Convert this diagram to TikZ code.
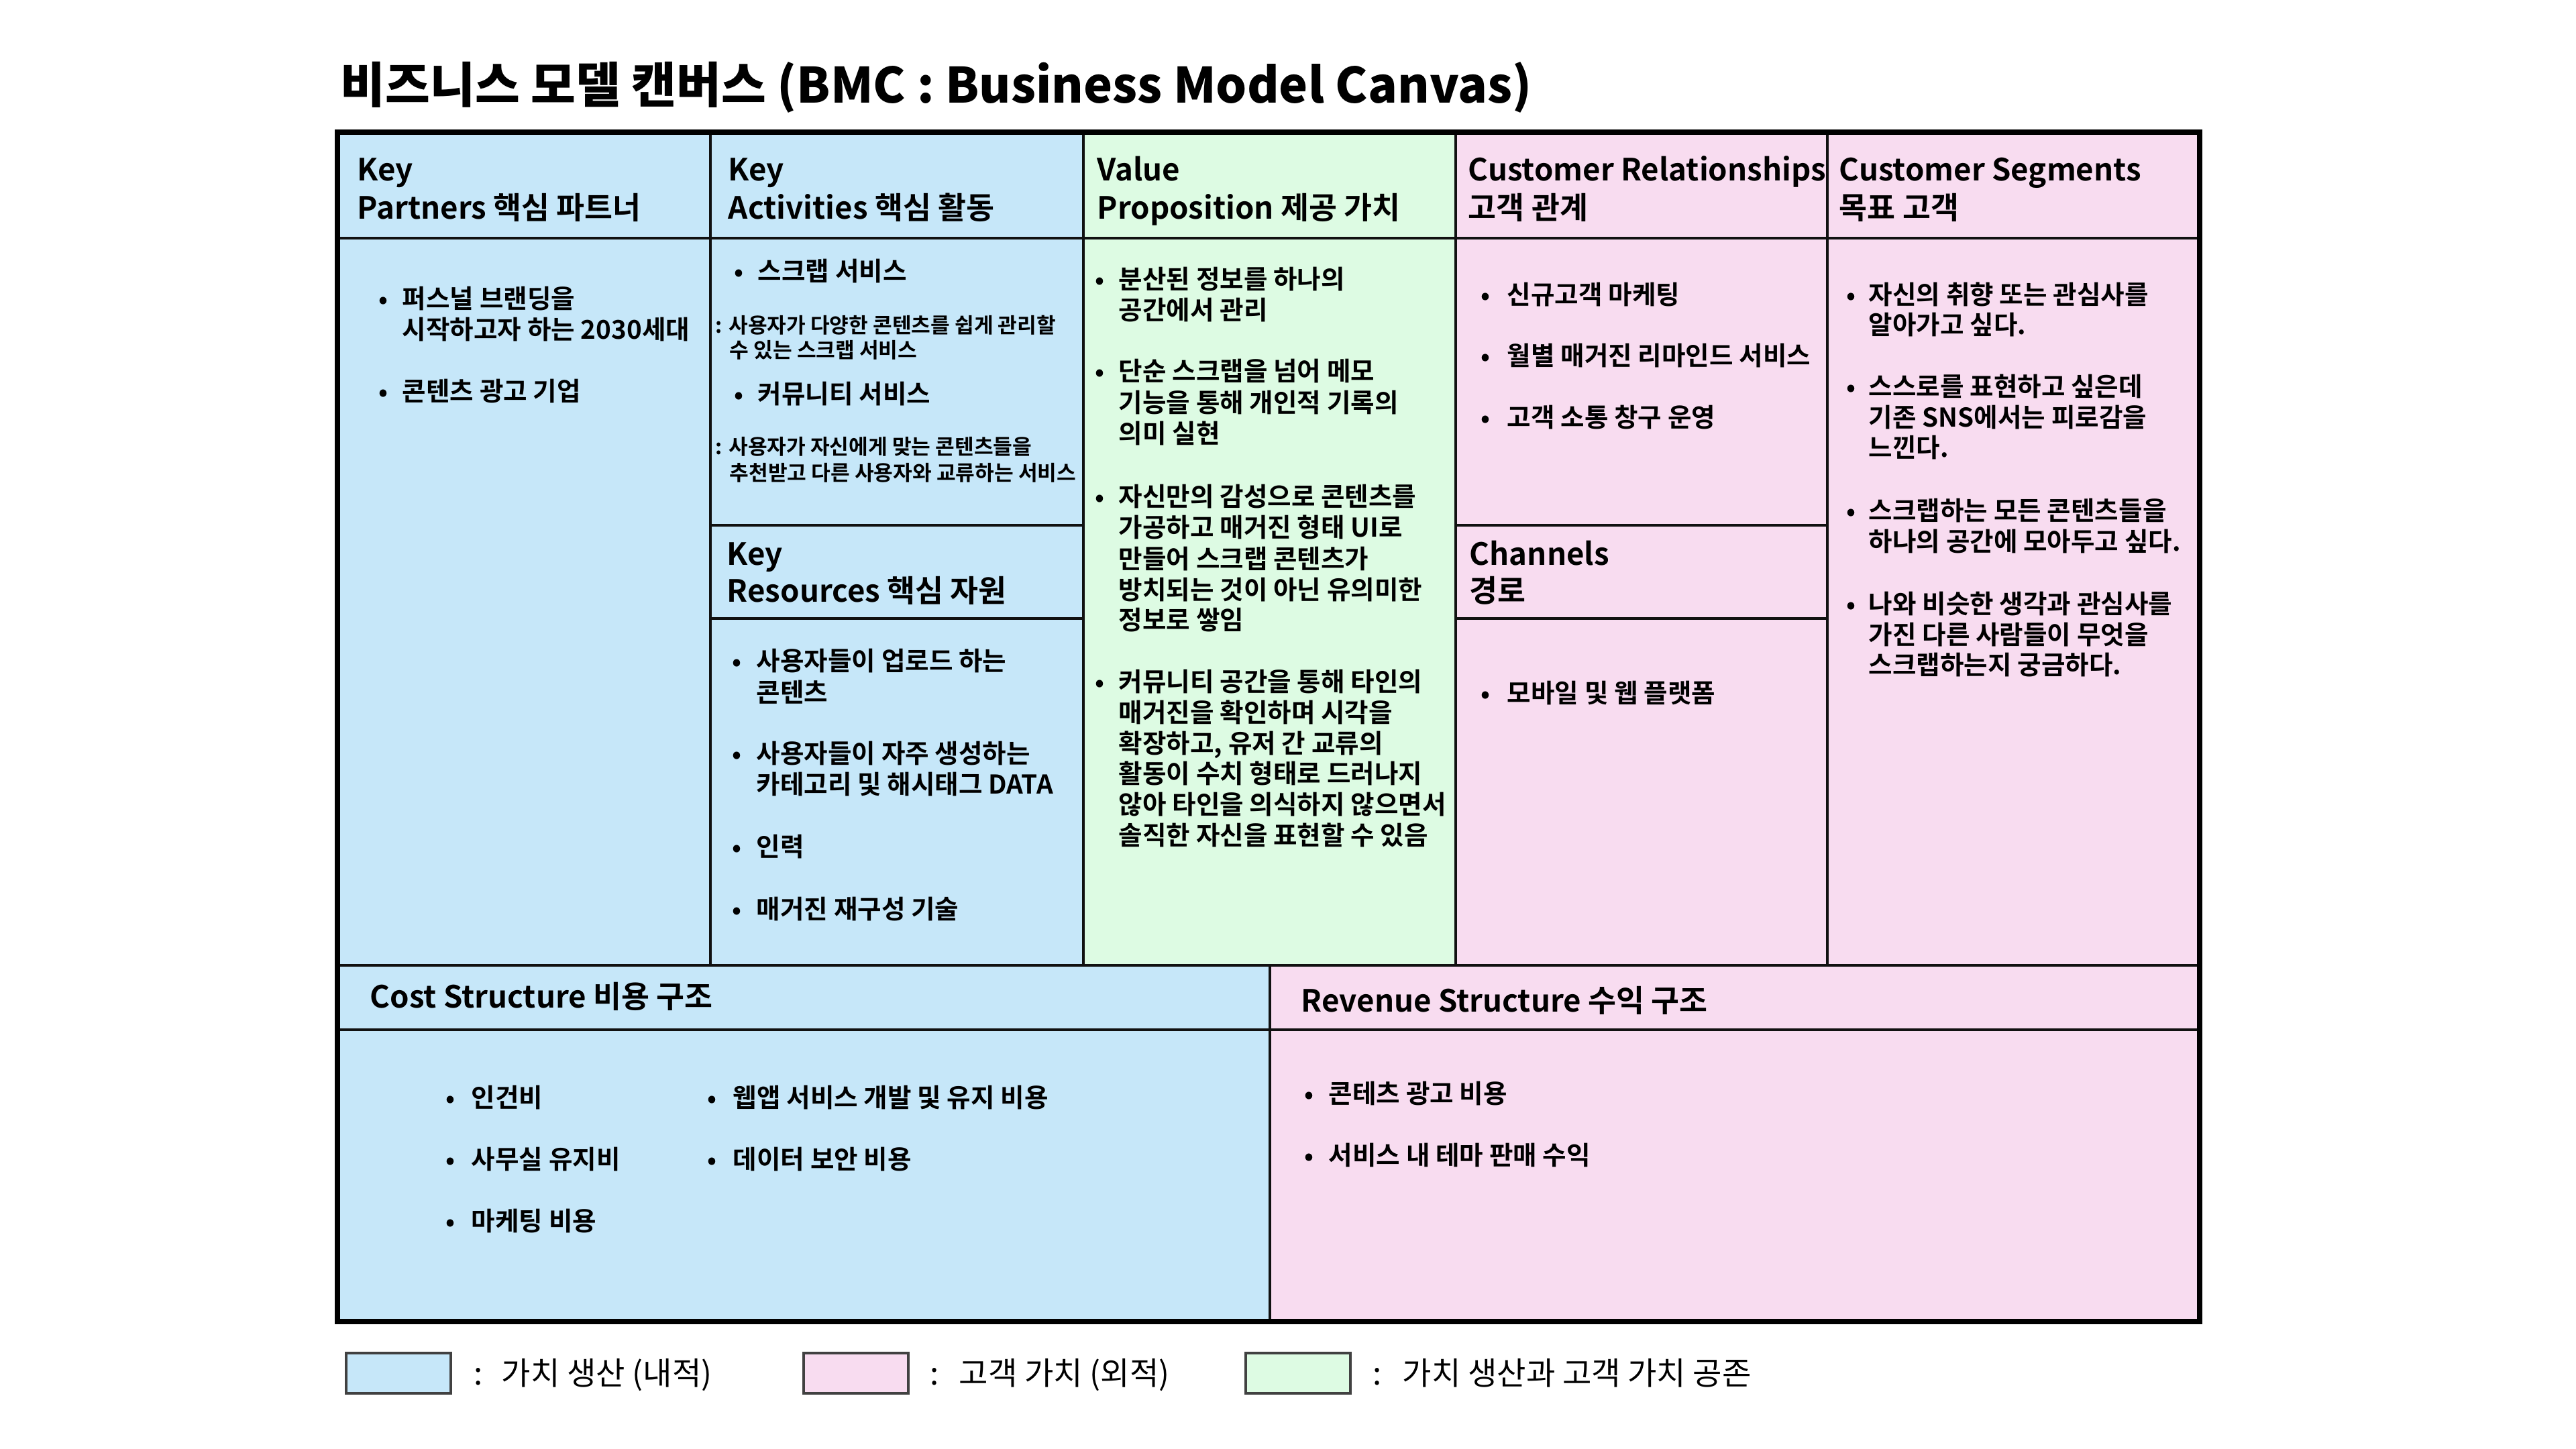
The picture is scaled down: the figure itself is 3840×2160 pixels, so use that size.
\documentclass[tikz,border=0pt]{standalone}
\usepackage{fontspec}
\setmainfont{Noto Sans CJK KR}[BoldFont={* Bold}]
\IfFontExistsTF{Noto Sans CJK KR Black}{\newfontfamily\titlefont{Noto Sans CJK KR Black}}{\newfontfamily\titlefont{Noto Sans CJK KR Bold}}
\definecolor{cblue}{HTML}{C6E7F9}
\definecolor{cpink}{HTML}{F8DCF0}
\definecolor{cgreen}{HTML}{DDFBE3}
\definecolor{cline}{HTML}{111111}
\tikzset{
  body/.style={anchor=base west, inner sep=0pt, font=\bfseries\fontsize{9.65}{11}\selectfont},
  bul/.style={anchor=base, inner sep=0pt, font=\bfseries\fontsize{9.2}{11}\selectfont},
  smalltxt/.style={anchor=base west, inner sep=0pt, font=\bfseries\fontsize{7.8}{9}\selectfont},
  head/.style={anchor=base west, inner sep=0pt, font=\bfseries\fontsize{11.4}{13}\selectfont},
  legtxt/.style={anchor=base west, inner sep=0pt, font=\fontsize{11.8}{13}\selectfont},
  titletxt/.style={anchor=base west, inner sep=0pt, font=\titlefont\fontsize{18.15}{22}\selectfont},
  inner/.style={draw=cline, line width=0.9pt},
  legbox/.style={draw=cline!80, line width=0.8pt},
}
\newcommand\BL[4]{\node[body] (#1) at (#2,#3) {#4};}
\newcommand\BU[3]{\node[bul] (#1) at (#2,#3) {•};}
\begin{document}
\begin{tikzpicture}[x=0.25pt,y=-0.25pt]
\useasboundingbox (0,0) rectangle (3840,2160);
% fills
\fill[cblue] (503,197) rectangle (1615,1439);
\fill[cgreen] (1615,197) rectangle (2170,1439);
\fill[cpink] (2170,197) rectangle (3279,1439);
\fill[cblue] (503,1439) rectangle (1893,1970);
\fill[cpink] (1893,1439) rectangle (3279,1970);
% inner lines
\draw[inner] (503,355) -- (3279,355);
\foreach \xx in {1059,1615,2170,2724} \draw[inner] (\xx,197) -- (\xx,1439);
\draw[inner] (1059,783) -- (1615,783);
\draw[inner] (1059,922) -- (1615,922);
\draw[inner] (2170,783) -- (2724,783);
\draw[inner] (2170,922) -- (2724,922);
\draw[inner] (503,1439) -- (3279,1439);
\draw[inner] (1893,1439) -- (1893,1970);
\draw[inner] (503,1535) -- (3279,1535);
\draw[line width=2pt, black] (503,197) rectangle (3279,1970);
% title
\node[titletxt] (title) at (507,154) {비즈니스 모델 캔버스 (BMC : Business Model Canvas)};
% headers
\node[head] (kp1) at (532,270) {Key};
\node[head] (kp2) at (532,327) {Partners 핵심 파트너};
\node[head] (ka1) at (1085,270) {Key};
\node[head] (ka2) at (1085,327) {Activities 핵심 활동};
\node[head] (vp1) at (1635,270) {Value};
\node[head] (vp2) at (1635,327) {Proposition 제공 가치};
\node[head] (cr1) at (2188,270) {Customer Relationships};
\node[head] (cr2) at (2188,327) {고객 관계};
\node[head] (cs1) at (2741,270) {Customer Segments};
\node[head] (cs2) at (2741,327) {목표 고객};
\node[head] (kr1) at (1083,842) {Key};
\node[head] (kr2) at (1083,897) {Resources 핵심 자원};
\node[head] (ch1) at (2190,842) {Channels};
\node[head] (ch2) at (2190,897) {경로};
\node[head] (cost) at (551,1502) {Cost Structure 비용 구조};
\node[head] (rev) at (1939,1508) {Revenue Structure 수익 구조};
% Key partners
\BU{kpb1}{571}{460} \BL{kpa}{599}{460}{퍼스널 브랜딩을}
\BL{kpb}{599}{506}{시작하고자 하는 2030세대}
\BU{kpb2}{571}{598} \BL{kpc}{599}{598}{콘텐츠 광고 기업}
% Key activities
\BU{kab1}{1101}{419} \BL{kaa}{1129}{419}{스크랩 서비스}
\node[smalltxt] (kas1) at (1066,497) {: 사용자가 다양한 콘텐츠를 쉽게 관리할};
\node[smalltxt] (kas2) at (1087,534) {수 있는 스크랩 서비스};
\BU{kab2}{1101}{602} \BL{kab}{1129}{602}{커뮤니티 서비스};
\node[smalltxt] (kas3) at (1066,678) {: 사용자가 자신에게 맞는 콘텐츠들을};
\node[smalltxt] (kas4) at (1087,716) {추천받고 다른 사용자와 교류하는 서비스};
% Key resources
\BU{krb1}{1098}{999} \BL{kra}{1127}{999}{사용자들이 업로드 하는}
\BL{krb}{1127}{1046}{콘텐츠}
\BU{krb2}{1098}{1137} \BL{krc}{1127}{1137}{사용자들이 자주 생성하는}
\BL{krd}{1127}{1183}{카테고리 및 해시태그 DATA}
\BU{krb3}{1098}{1276} \BL{kre}{1127}{1276}{인력}
\BU{krb4}{1098}{1369} \BL{krf}{1127}{1369}{매거진 재구성 기술}
% Value proposition
\BU{vpb1}{1639}{431} \BL{vpa}{1667}{431}{분산된 정보를 하나의}
\BL{vpb}{1667}{477}{공간에서 관리}
\BU{vpb2}{1639}{568} \BL{vpc}{1667}{568}{단순 스크랩을 넘어 메모}
\BL{vpd}{1667}{615}{기능을 통해 개인적 기록의}
\BL{vpe}{1667}{661}{의미 실현}
\BU{vpb3}{1639}{755} \BL{vpf}{1667}{755}{자신만의 감성으로 콘텐츠를}
\BL{vpg}{1667}{801}{가공하고 매거진 형태 UI로}
\BL{vph}{1667}{847}{만들어 스크랩 콘텐츠가}
\BL{vpi}{1667}{893}{방치되는 것이 아닌 유의미한}
\BL{vpj}{1667}{938}{정보로 쌓임}
\BU{vpb4}{1639}{1030} \BL{vpk}{1667}{1030}{커뮤니티 공간을 통해 타인의}
\BL{vpl}{1667}{1076}{매거진을 확인하며 시각을}
\BL{vpm}{1667}{1122}{확장하고, 유저 간 교류의}
\BL{vpn}{1667}{1167}{활동이 수치 형태로 드러나지}
\BL{vpo}{1667}{1213}{않아 타인을 의식하지 않으면서}
\BL{vpp}{1667}{1259}{솔직한 자신을 표현할 수 있음}
% Customer relationships
\BU{crb1}{2214}{454} \BL{cra}{2246}{454}{신규고객 마케팅}
\BU{crb2}{2214}{545} \BL{crb}{2246}{545}{월별 매거진 리마인드 서비스}
\BU{crb3}{2214}{637} \BL{crc}{2246}{637}{고객 소통 창구 운영}
% Channels
\BU{chb1}{2214}{1047} \BL{cha}{2246}{1047}{모바일 및 웹 플랫폼}
% Customer segments
\BU{csb1}{2759}{454} \BL{csa}{2785}{454}{자신의 취향 또는 관심사를}
\BL{csb}{2785}{499}{알아가고 싶다.}
\BU{csb2}{2759}{591} \BL{csc}{2785}{591}{스스로를 표현하고 싶은데}
\BL{csd}{2785}{637}{기존 SNS에서는 피로감을}
\BL{cse}{2785}{682}{느낀다.}
\BU{csb3}{2759}{775} \BL{csf}{2785}{775}{스크랩하는 모든 콘텐츠들을}
\BL{csg}{2785}{821}{하나의 공간에 모아두고 싶다.}
\BU{csb4}{2759}{914} \BL{csh}{2785}{914}{나와 비슷한 생각과 관심사를}
\BL{csi}{2785}{960}{가진 다른 사람들이 무엇을}
\BL{csj}{2785}{1005}{스크랩하는지 궁금하다.}
% Cost
\BU{cob1}{671}{1650} \BL{coa}{702}{1650}{인건비}
\BU{cob2}{671}{1742} \BL{cob}{702}{1742}{사무실 유지비}
\BU{cob3}{671}{1834} \BL{coc}{702}{1834}{마케팅 비용}
\BU{cob4}{1061}{1650} \BL{cod}{1092}{1650}{웹앱 서비스 개발 및 유지 비용}
\BU{cob5}{1061}{1742} \BL{coe}{1092}{1742}{데이터 보안 비용}
% Revenue
\BU{rvb1}{1951}{1644} \BL{rva}{1980}{1644}{콘테츠 광고 비용}
\BU{rvb2}{1951}{1736} \BL{rvb}{1980}{1736}{서비스 내 테마 판매 수익}
% legend
\draw[legbox, fill=cblue] (516,2017) rectangle (672,2077);
\draw[legbox, fill=cpink] (1198,2017) rectangle (1354,2077);
\draw[legbox, fill=cgreen] (1857,2017) rectangle (2013,2077);
\node[legtxt] (lg1c) at (706,2064) {:};
\node[legtxt] (lg1) at (747,2064) {가치 생산 (내적)};
\node[legtxt] (lg2c) at (1386,2064) {:};
\node[legtxt] (lg2) at (1429,2064) {고객 가치 (외적)};
\node[legtxt] (lg3c) at (2046,2064) {:};
\node[legtxt] (lg3) at (2090,2064) {가치 생산과 고객 가치 공존};
\end{tikzpicture}
\end{document}
